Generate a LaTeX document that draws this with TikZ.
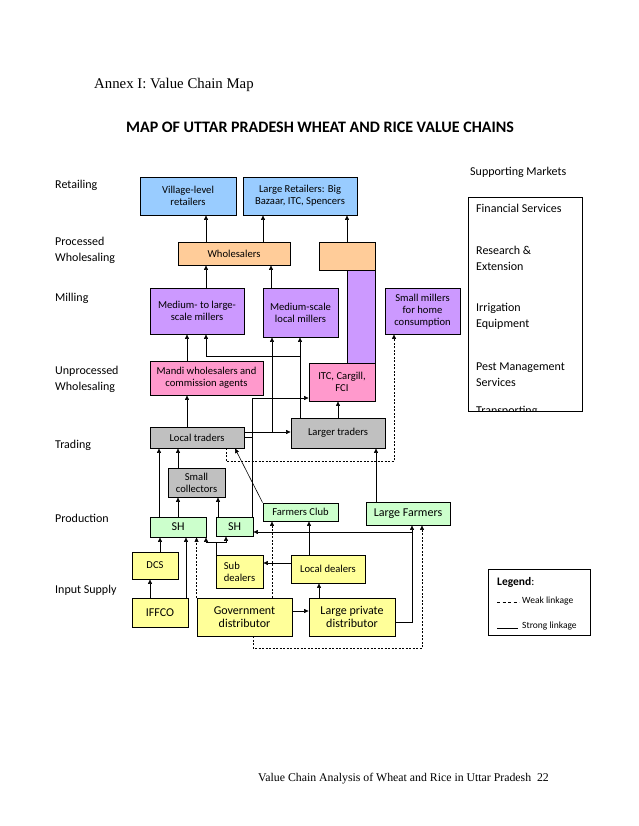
\documentclass[tikz,border=0pt]{standalone}
\usepackage{fontspec}
\setmainfont{Carlito}
\newfontfamily\headfont{Liberation Serif}
\usetikzlibrary{arrows.meta}

\definecolor{retailblue}{HTML}{99CCFF}
\definecolor{wsaleorange}{HTML}{FFCC99}
\definecolor{millpurple}{HTML}{CC99FF}
\definecolor{mandipink}{HTML}{FF99CC}
\definecolor{tradegray}{HTML}{C0C0C0}
\definecolor{prodgreen}{HTML}{CCFFCC}
\definecolor{inputyellow}{HTML}{FFFF99}

\begin{document}
\begin{tikzpicture}[
  x=1pt, y=-1pt,
  box/.style={draw, line width=0.9pt, inner sep=0pt, align=center,
              font=\fontsize{10.6}{11.9}\selectfont},
  bigfont/.style={font=\fontsize{12}{12.6}\selectfont},
  retail/.style={box, fill=retailblue},
  wsale/.style={box, fill=wsaleorange},
  mill/.style={box, fill=millpurple},
  mandi/.style={box, fill=mandipink},
  trade/.style={box, fill=tradegray},
  prod/.style={box, fill=prodgreen},
  input/.style={box, fill=inputyellow},
  level/.style={anchor=west, align=left, inner sep=0pt,
                font=\fontsize{12}{16}\selectfont},
  link/.style={line width=0.6pt, -{Triangle[length=4.5pt,width=4pt]}},
  weak/.style={link, dash pattern=on 2pt off 1.5pt},
  >=Stealth
]
  \fill[white] (0,0) rectangle (638,826);
  \useasboundingbox (0,0) rectangle (638,826);

  % Headings
  \node[anchor=west, inner sep=0pt, font=\headfont\fontsize{14.8}{17}\selectfont]
    (annex) at (94,85) {Annex I: Value Chain Map};
  \node[inner sep=0pt, font=\bfseries\fontsize{16}{18}\selectfont]
    (title) at (320,127) {MAP OF UTTAR PRADESH WHEAT AND RICE VALUE CHAINS};
  \node[anchor=west, inner sep=0pt, font=\headfont\fontsize{11.8}{13}\selectfont]
    (footer) at (258,779) {Value Chain Analysis of Wheat and Rice in Uttar Pradesh\ \ 22};

  % Stage labels
  \node[level] (lvretail) at (55,185) {Retailing};
  \node[level] (lvproc) at (55,250) {Processed\\Wholesaling};
  \node[level] (lvmill) at (55,298) {Milling};
  \node[level] (lvunproc) at (55,379) {Unprocessed\\Wholesaling};
  \node[level] (lvtrade) at (55,445) {Trading};
  \node[level] (lvprod) at (55,518) {Production};
  \node[level] (lvinput) at (55,590) {Input Supply};

  % Retailing and wholesaling
  \node[retail, minimum width=96, minimum height=38] (vill) at (188,196) {Village-level\\retailers};
  \node[retail, minimum width=114, minimum height=38] (lret) at (300,196) {Large Retailers: Big\\Bazaar, ITC, Spencers};
  \node[wsale, minimum width=112, minimum height=23] (whol) at (234,253.5) {Wholesalers};
  \node[wsale, minimum width=56, minimum height=28] (orng) at (347,256) {};
  \node[mill, minimum width=28, minimum height=93] (bar) at (361,316.5) {};

  % Milling
  \node[mill, minimum width=94, minimum height=46] (mlm) at (197,311) {Medium- to large-\\scale millers};
  \node[mill, minimum width=75, minimum height=49] (msm) at (300.5,312.5) {Medium-scale\\local millers};
  \node[mill, minimum width=75, minimum height=46] (smm) at (422.5,311) {Small millers\\for home\\consumption};

  % Unprocessed wholesaling and trading
  \node[mandi, minimum width=113, minimum height=34] (mandi) at (206.5,378) {Mandi wholesalers and\\commission agents};
  \node[mandi, minimum width=66, minimum height=38] (itc) at (342,382) {ITC, Cargill,\\FCI};
  \node[trade, minimum width=94, minimum height=21] (ltr) at (197,437.5) {Local traders};
  \node[trade, minimum width=94, minimum height=30] (lgt) at (338,433) {Larger traders};
  \node[trade, minimum width=57, minimum height=29] (scol) at (196.5,482.5) {Small\\collectors};

  % Production
  \node[prod, bigfont, minimum width=56, minimum height=20] (sh1) at (178,527) {SH};
  \node[prod, bigfont, minimum width=37, minimum height=19] (sh2) at (234.5,526.5) {SH};
  \node[prod, minimum width=75, minimum height=18] (fcl) at (300.5,512) {Farmers Club};
  \node[prod, bigfont, minimum width=84, minimum height=23] (lfm) at (408,513.5) {Large Farmers};

  % Input supply
  \node[input, minimum width=46, minimum height=27] (dcs) at (155,565.5) {DCS};
  \node[input, align=left, minimum width=47, minimum height=33] (subd) at (239.5,571.5) {Sub\\dealers};
  \node[input, minimum width=74, minimum height=28] (locd) at (328,569) {Local dealers};
  \node[input, bigfont, minimum width=56, minimum height=29] (iffco) at (160,612.5) {IFFCO};
  \node[input, bigfont, minimum width=95, minimum height=38] (gov) at (244.5,617) {Government\\distributor};
  \node[input, bigfont, minimum width=86, minimum height=38] (lpd) at (352,617) {Large private\\distributor};

  % Links to retail
  \draw[link] (whol.north -| 206,0) -- (vill.south -| 206,0);
  \draw[link] (whol.north -| 263,0) -- (lret.south -| 263,0);
  \draw[link] (orng.north) -- (lret.south -| orng.north);
  \draw[link] (mlm.north -| 206,0) -- (whol.south -| 206,0);
  \draw[link] (msm.north -| 271,0) -- (whol.south -| 271,0);

  % Links to mills and wholesalers
  \draw[link] (mandi.north -| 187,0) -- (mlm.south -| 187,0);
  \draw[link] (lgt.north -| 300,0) -- (msm.south -| 300,0);
  \coordinate (lgtsplit) at (300,356);
  \draw[link] (lgtsplit) -| (mlm.south -| 206,0);
  \draw[link] (ltr.north -| 187,0) -- (mandi.south -| 187,0);
  \draw[link] (lgt.north -| 338,0) -- (itc.south -| 338,0);
  \draw[link] (ltr.east |- 0,432) -- (lgt.west |- 0,432);
  \draw[link] (ltr.east |- 0,432) -| (msm.south -| 272,0);
  \coordinate (itcin) at (252,398);
  \draw[link] (sh2.north -| 252,0) -- (itcin) -- (itcin -| itc.west);
  \draw[line width=0.6pt] (ltr.east |- 0,437) -- (itcin |- 0,437);
  \draw[weak] (ltr.south -| 226,0) -- ++(0,13) -| (smm.south -| 394,0);

  % Links to traders
  \draw[link] (lfm.north -| 376,0) -- (lgt.south -| 376,0);
  \draw[link] (fcl.north west) -- (ltr.south -| 235,0);
  \draw[link] (scol.north -| 178,0) -- (ltr.south -| 178,0);
  \draw[link] (sh1.north -| 159,0) -- (ltr.south -| 159,0);
  \draw[link] (sh1.north -| 178,0) -- (scol.south -| 178,0);
  \draw[link] (sh2.north -| 218,0) -- (scol.south -| 218,0);

  % Input supply links
  \draw[link] (dcs.north -| 160,0) -- (sh1.south -| 160,0);
  \draw[link] (iffco.north -| 150,0) -- (dcs.south -| 150,0);
  \draw[link] (iffco.north -| 186,0) -- (sh1.south -| 186,0);
  \draw[link] (subd.north -| 216,0) -- ++(0,-12) coordinate (subsplit) -| (sh1.south -| 206,0);
  \draw[link] (subsplit) -| (sh2.south -| 226,0);
  \draw[link] (locd.west |- 0,563) -- (subd.east |- 0,563);
  \draw[link] (locd.north -| 309,0) -- (fcl.south -| 309,0);
  \draw[link] (gov.east |- 0,611) -- (lpd.west |- 0,611);
  \draw[link] (lpd.north -| 319,0) -- (locd.south -| 319,0);
  \draw[link] (lpd.east |- 0,622) -| (lfm.south -| 412,0);
  \coordinate (lfmsplit) at (412,532);
  \draw[link] (lfmsplit) -- (sh2.east |- lfmsplit);
  \draw[weak] (gov.north west) -- (sh1.south -| gov.north west);
  \draw[weak] (gov.north -| 272,0) -- (fcl.south -| 272,0);
  \draw[weak] (gov.south -| 253,0) -- ++(0,12) -| (lfm.south -| 422,0);

  % Supporting markets
  \node[anchor=west, inner sep=0pt, font=\fontsize{12}{14}\selectfont] (suphead) at (470,172) {Supporting Markets};
  \begin{scope}
    \clip (468,197) rectangle (582,411);
    \node[level] (finserv) at (476,208) {Financial Services};
    \node[level] (research) at (476,258.5) {Research \&\\Extension};
    \node[level] (irrig) at (476,316.5) {Irrigation\\Equipment};
    \node[level] (pest) at (476,374.5) {Pest Management\\Services};
    \node[level] (transp) at (476,411) {Transporting};
  \end{scope}
  \draw[line width=0.9pt] (468,197) rectangle (582,411);

  % Legend
  \node[draw, line width=0.9pt, minimum width=102, minimum height=66, inner sep=0pt] (legend) at (539,602) {};
  \node[anchor=west, inner sep=0pt, font=\fontsize{11.5}{13}\selectfont] (legtitle) at (497,582) {\textbf{Legend}:};
  \draw[line width=0.6pt, dash pattern=on 3pt off 2.5pt] (497,602) -- (519,602) coordinate (weakend);
  \node[anchor=west, inner sep=0pt, font=\fontsize{9.5}{11}\selectfont] (weaklbl) at (522,601) {Weak linkage};
  \draw[line width=0.6pt] (497,628) -- (518,628) coordinate (strongend);
  \node[anchor=west, inner sep=0pt, font=\fontsize{9.5}{11}\selectfont] (stronglbl) at (522,626) {Strong linkage};
\end{tikzpicture}
\end{document}
